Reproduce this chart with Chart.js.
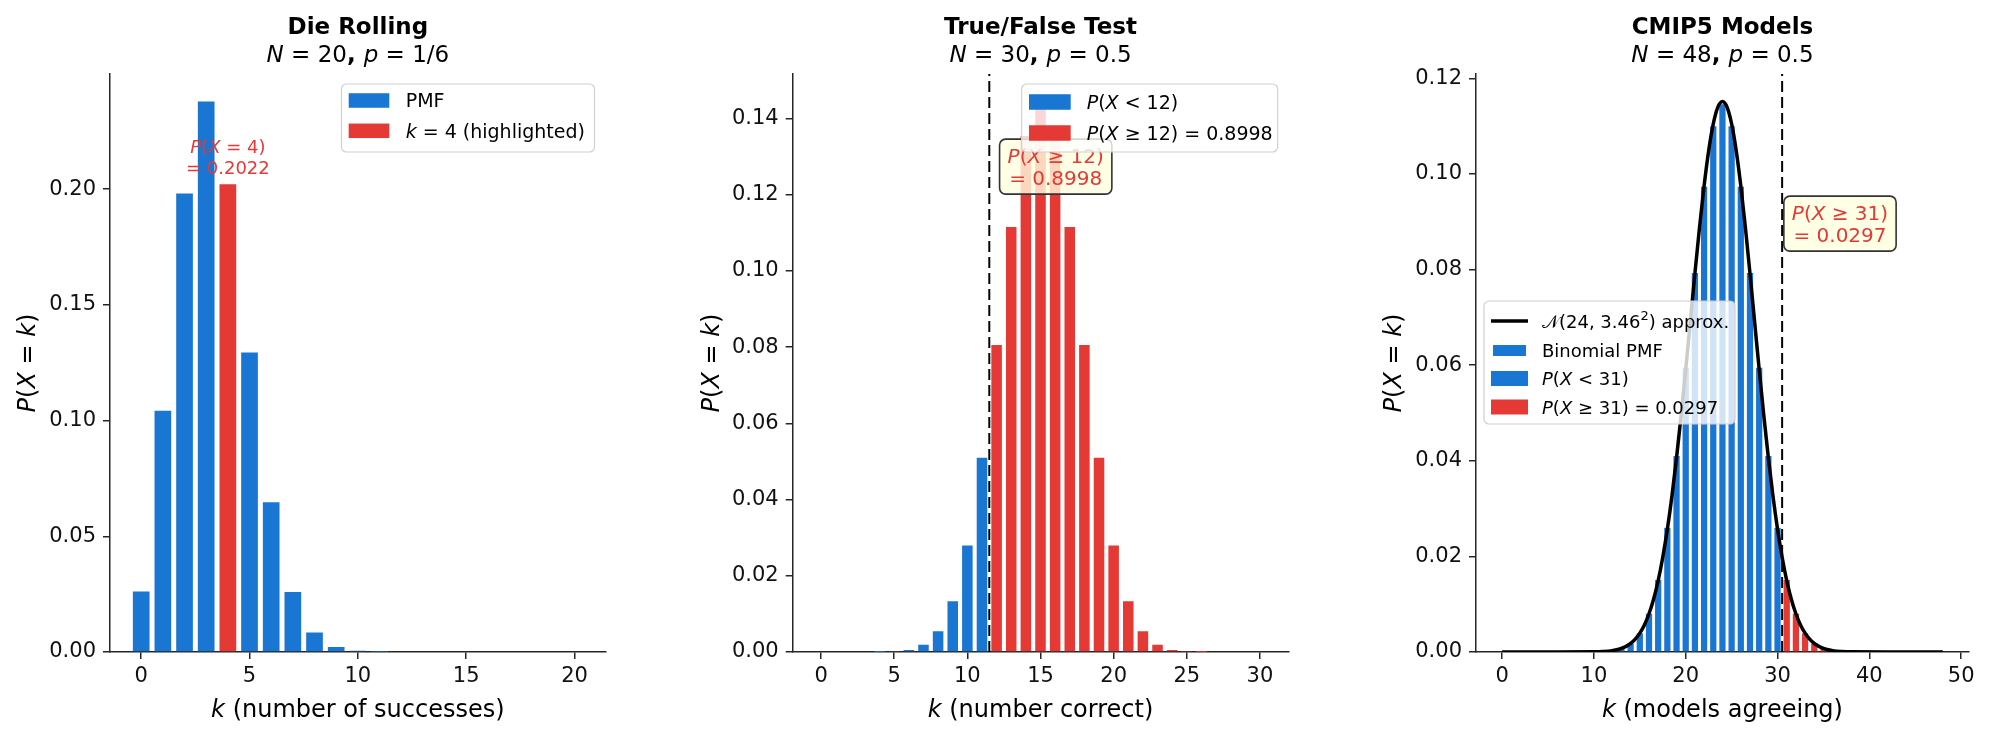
<!DOCTYPE html>
<html>
<head>
<meta charset="utf-8">
<script src="https://cdn.jsdelivr.net/npm/chart.js@4.4.1/dist/chart.umd.min.js"></script>
<style>
  html, body { margin: 0; padding: 0; background: #fff; }
  #wrap { position: relative; width: 1990px; height: 738px; }
  canvas { position: absolute; top: 0; }
</style>
</head>
<body>
<div id="wrap">
  <canvas id="c1" width="663" height="738" style="left:0px"></canvas>
  <canvas id="c2" width="663" height="738" style="left:663px"></canvas>
  <canvas id="c3" width="664" height="738" style="left:1326px"></canvas>
</div>
<script>
// ---- data ----
const dieK = [0, 1, 2, 3, 4, 5, 6, 7, 8, 9, 10, 11, 12, 13, 14, 15, 16, 17, 18, 19, 20];
const dieP = [0.0261, 0.1043, 0.1982, 0.2379, 0.2022, 0.1294, 0.0647, 0.0259, 0.0084, 0.0022,
              0.0005, 0.0001, 0, 0, 0, 0, 0, 0, 0, 0, 0];
const dieHighlight = 4;
const dieXTicks = [0, 5, 10, 15, 20];
const dieYTicks = [0, 0.05, 0.10, 0.15, 0.20];
const dieYLabels = ['0.00', '0.05', '0.10', '0.15', '0.20'];

const tfK = [0, 1, 2, 3, 4, 5, 6, 7, 8, 9, 10, 11, 12, 13, 14, 15, 16, 17, 18, 19, 20,
             21, 22, 23, 24, 25, 26, 27, 28, 29, 30];
const tfP = [0, 0, 0, 0, 0.00003, 0.00013, 0.00055, 0.0019, 0.00545, 0.01332, 0.02798, 0.05095,
             0.08055, 0.11154, 0.13543, 0.14446, 0.13543, 0.11154, 0.08055, 0.05095, 0.02798,
             0.01332, 0.00545, 0.0019, 0.00055, 0.00013, 0.00003, 0, 0, 0, 0];
const tfCut = 12;
const tfLineX = 11.5;
const tfXTicks = [0, 5, 10, 15, 20, 25, 30];
const tfYTicks = [0, 0.02, 0.04, 0.06, 0.08, 0.10, 0.12, 0.14];
const tfYLabels = ['0.00', '0.02', '0.04', '0.06', '0.08', '0.10', '0.12', '0.14'];

const cmK = [0, 1, 2, 3, 4, 5, 6, 7, 8, 9, 10, 11, 12, 13, 14, 15, 16, 17, 18, 19, 20, 21, 22, 23, 24,
             25, 26, 27, 28, 29, 30, 31, 32, 33, 34, 35, 36, 37, 38, 39, 40, 41, 42, 43, 44, 45, 46, 47, 48];
const cmP = [0, 0, 0, 0, 0, 0, 0, 0, 0, 0.000006, 0.000023, 0.00008, 0.00025, 0.00069, 0.00171, 0.00388,
             0.00801, 0.01508, 0.02597, 0.041, 0.05946, 0.07927, 0.09729, 0.10998, 0.11456, 0.10998,
             0.09729, 0.07927, 0.05946, 0.041, 0.02597, 0.01508, 0.00801, 0.00388, 0.00171, 0.00069,
             0.00025, 0.00008, 0.000023, 0.000006, 0, 0, 0, 0, 0, 0, 0, 0, 0];
const cmCut = 31;
const cmLineX = 30.5;
const normX = [0, 6, 10, 11, 12, 13, 14, 14.5, 15, 15.5, 16, 16.5, 17, 17.5, 18, 18.5, 19, 19.5, 20, 20.5,
               21, 21.5, 22, 22.5, 23, 23.5, 24, 24.5, 25, 25.5, 26, 26.5, 27, 27.5, 28, 28.5, 29, 29.5,
               30, 30.5, 31, 31.5, 32, 32.5, 33, 33.5, 34, 35, 36, 37, 38, 42, 48];
const normY = [0, 0, 0.00003, 0.0001, 0.00029, 0.00074, 0.00178, 0.00268, 0.00394, 0.00567, 0.008,
               0.01105, 0.01495, 0.01981, 0.0257, 0.03265, 0.04064, 0.04953, 0.05913, 0.06912, 0.07915,
               0.08876, 0.09748, 0.10486, 0.11046, 0.11397, 0.11516, 0.11397, 0.11046, 0.10486, 0.09748,
               0.08876, 0.07915, 0.06912, 0.05913, 0.04953, 0.04064, 0.03265, 0.0257, 0.01981, 0.01495,
               0.01105, 0.008, 0.00567, 0.00394, 0.00268, 0.00178, 0.00074, 0.00029, 0.0001, 0.00003, 0, 0];
const cmXTicks = [0, 10, 20, 30, 40, 50];
const cmYTicks = [0, 0.02, 0.04, 0.06, 0.08, 0.10, 0.12];
const cmYLabels = ['0.00', '0.02', '0.04', '0.06', '0.08', '0.10', '0.12'];

// ---- styling ----
const BLUE = '#1976D2';
const RED = '#E53935';
const AX = '#262626';
const FF = '"DejaVu Sans", sans-serif';

function fontStr(size, st) {
  return (st.includes('i') ? 'italic ' : '') + (st.includes('b') ? 'bold ' : '') + size + 'px ' + FF;
}

// draw text made of plain / italic / bold / superscript pieces, y = visual centre of caps
function rich(ctx, segs, x, y, size, color, align) {
  let w = 0;
  const parts = segs.map(([t, st0]) => {
    const st = st0 || '';
    const s = st.includes('s') ? Math.round(size * 0.7) : size;
    ctx.font = fontStr(s, st);
    const m = ctx.measureText(t).width;
    w += m;
    return { t, st, s, m };
  });
  let cx = align === 'center' ? x - w / 2 : (align === 'right' ? x - w : x);
  ctx.fillStyle = color;
  ctx.textAlign = 'left';
  ctx.textBaseline = 'alphabetic';
  const base = y + size * 0.364;
  for (const p of parts) {
    ctx.font = fontStr(p.s, p.st);
    ctx.fillText(p.t, cx, p.st.includes('s') ? base - size * 0.42 : base);
    cx += p.m;
  }
  return w;
}

function textWidth(ctx, segs, size) {
  let w = 0;
  for (const [t, st0] of segs) {
    const st = st0 || '';
    ctx.font = fontStr(st.includes('s') ? Math.round(size * 0.7) : size, st);
    w += ctx.measureText(t).width;
  }
  return w;
}

function rrect(ctx, x, y, w, h, r) {
  ctx.beginPath();
  ctx.moveTo(x + r, y);
  ctx.lineTo(x + w - r, y);
  ctx.arcTo(x + w, y, x + w, y + r, r);
  ctx.lineTo(x + w, y + h - r);
  ctx.arcTo(x + w, y + h, x + w - r, y + h, r);
  ctx.lineTo(x + r, y + h);
  ctx.arcTo(x, y + h, x, y + h - r, r);
  ctx.lineTo(x, y + r);
  ctx.arcTo(x, y, x + r, y, r);
  ctx.closePath();
}

// titles, axis labels, annotations and legend drawn on top of the chart
function decor(spec) {
  return {
    id: 'decor',
    afterDraw(chart) {
      const ctx = chart.ctx;
      const a = chart.chartArea;
      const xs = chart.scales.x, ys = chart.scales.y;
      const cx = (a.left + a.right) / 2;
      ctx.save();
      rich(ctx, [[spec.title, 'b']], cx, 25.5, 23, '#000', 'center');
      rich(ctx, spec.sub, cx, 54, 23, '#000', 'center');
      rich(ctx, spec.xLabel, cx, 708, 24, '#000', 'center');
      ctx.save();
      ctx.translate(spec.yLabelX, (a.top + a.bottom) / 2);
      ctx.rotate(-Math.PI / 2);
      rich(ctx, [['P', 'i'], ['(', ''], ['X', 'i'], [' = ', ''], ['k', 'i'], [')', '']], 0, 0, 24, '#000', 'center');
      ctx.restore();

      if (spec.note) {
        const n = spec.note;
        const px = xs.getPixelForValue(n.x), py = ys.getPixelForValue(n.y);
        const fs = n.size;
        if (n.box) {
          const w = Math.max(...n.lines.map(l => textWidth(ctx, l, fs))) + 16;
          const h = 55;
          rrect(ctx, px - w / 2, py - h / 2, w, h, 6);
          ctx.fillStyle = 'rgba(255,255,224,0.8)';
          ctx.fill();
          ctx.lineWidth = 1.6;
          ctx.strokeStyle = '#333';
          ctx.stroke();
        }
        const gap = n.gap;
        n.lines.forEach((l, i) => {
          rich(ctx, l, px, py + (i - (n.lines.length - 1) / 2) * gap, fs, RED, 'center');
        });
      }

      const L = spec.legend;
      rrect(ctx, L.box[0], L.box[1], L.box[2], L.box[3], 5);
      ctx.fillStyle = 'rgba(255,255,255,0.8)';
      ctx.fill();
      ctx.lineWidth = 1.2;
      ctx.strokeStyle = '#d0d0d0';
      ctx.stroke();
      L.rows.forEach(r => {
        if (r.line) {
          ctx.beginPath();
          ctx.moveTo(L.hx, r.y);
          ctx.lineTo(L.hx + L.hw, r.y);
          ctx.lineWidth = 3.5;
          ctx.strokeStyle = r.line;
          ctx.stroke();
        } else {
          const ph = r.ph || L.ph;
          const inset = r.inset || 0;
          ctx.fillStyle = r.patch;
          ctx.fillRect(L.hx + inset, r.y - ph / 2, L.hw - 2 * inset, ph);
        }
        rich(ctx, r.segs, L.tx, r.y, L.fs, '#000', 'left');
      });
      ctx.restore();
    }
  };
}

function pts(ks, ps, keep) {
  const out = [];
  ks.forEach((k, i) => { if (keep(k)) out.push({ x: k, y: ps[i] }); });
  return out;
}

function makeChart(id, o) {
  const tickFont = { family: FF, size: 21 };
  new Chart(document.getElementById(id), {
    type: 'bar',
    data: { datasets: o.datasets },
    options: {
      responsive: false,
      animation: false,
      events: [],
      layout: { padding: { top: 74, left: 0, right: o.padRight, bottom: 0 } },
      plugins: { legend: { display: false }, tooltip: { enabled: false }, title: { display: false } },
      scales: {
        x: {
          type: 'linear', min: o.xMin, max: o.xMax, offset: false, z: 1,
          grid: { display: true, drawOnChartArea: false, drawTicks: true, tickLength: 7, color: AX, lineWidth: 1.5, offset: false },
          border: { display: true, color: AX, width: 1.5 },
          ticks: { font: tickFont, color: '#111', padding: 5, maxRotation: 0, autoSkip: false,
                   callback: v => String(v) },
          afterBuildTicks: s => { s.ticks = o.xTicks.map(v => ({ value: v })); },
          afterFit: s => { s.height = 86; }
        },
        y: {
          type: 'linear', min: 0, max: o.yMax, z: 1,
          grid: { display: true, drawOnChartArea: false, drawTicks: true, tickLength: 7, color: AX, lineWidth: 1.5 },
          border: { display: true, color: AX, width: 1.5 },
          ticks: { font: tickFont, color: '#111', padding: 7,
                   callback: v => o.yLabels[o.yTicks.indexOf(v)] },
          afterBuildTicks: s => { s.ticks = o.yTicks.map(v => ({ value: v })); },
          afterFit: s => { s.width = o.spine; }
        }
      }
    },
    plugins: [decor(o.spec)]
  });
}

const barBase = { type: 'bar', grouped: false, categoryPercentage: 1, borderWidth: 0, order: 2 };
const dash = { type: 'line', borderColor: '#000', borderWidth: 2, borderDash: [11, 5], pointRadius: 0, fill: false };

// ---- panel 1: die rolling ----
makeChart('c1', {
  xMin: -1.44, xMax: 21.44, yMax: 0.2498, spine: 110, padRight: 663 - 605.7,
  xTicks: dieXTicks, yTicks: dieYTicks, yLabels: dieYLabels,
  datasets: [
    { ...barBase, barPercentage: 0.77, backgroundColor: BLUE, data: pts(dieK, dieP, k => k !== dieHighlight) },
    { ...barBase, barPercentage: 0.77, backgroundColor: RED, data: pts(dieK, dieP, k => k === dieHighlight) }
  ],
  spec: {
    title: 'Die Rolling',
    sub: [['N', 'i'], [' = 20', ''], [', ', 'b'], ['p', 'i'], [' = 1/6', '']],
    xLabel: [['k', 'i'], [' (number of successes)', '']],
    yLabelX: 26.5,
    note: { x: 4, y: 0.214, size: 18, gap: 21.5, box: false,
            lines: [[['P', 'i'], ['(', ''], ['X', 'i'], [' = 4)', '']], [['= 0.2022', '']]] },
    legend: { box: [341.5, 84, 253, 68], hx: 348.7, hw: 40.6, ph: 14.5, tx: 405.7, fs: 19,
              rows: [ { y: 100.5, patch: BLUE, segs: [['PMF', '']] },
                      { y: 130.8, patch: RED, segs: [['k', 'i'], [' = 4 (highlighted)', '']] } ] }
  }
});

// ---- panel 2: true/false test ----
makeChart('c2', {
  xMin: -1.94, xMax: 31.94, yMax: 0.1517, spine: 129.7, padRight: 663 - 625.3,
  xTicks: tfXTicks, yTicks: tfYTicks, yLabels: tfYLabels,
  datasets: [
    { ...dash, order: 1, data: [{ x: tfLineX, y: 0 }, { x: tfLineX, y: 0.1517 }] },
    { ...barBase, barPercentage: 0.72, backgroundColor: BLUE, data: pts(tfK, tfP, k => k < tfCut) },
    { ...barBase, barPercentage: 0.72, backgroundColor: RED, data: pts(tfK, tfP, k => k >= tfCut) }
  ],
  spec: {
    title: 'True/False Test',
    sub: [['N', 'i'], [' = 30', ''], [', ', 'b'], ['p', 'i'], [' = 0.5', '']],
    xLabel: [['k', 'i'], [' (number correct)', '']],
    yLabelX: 47,
    note: { x: 16.04, y: 0.1274, size: 20, gap: 22, box: true,
            lines: [[['P', 'i'], ['(', ''], ['X', 'i'], [' ≥ 12)', '']], [['= 0.8998', '']]] },
    legend: { box: [358.7, 84, 256, 68], hx: 366, hw: 41.7, ph: 15.5, tx: 423.7, fs: 19,
              rows: [ { y: 102, patch: BLUE, segs: [['P', 'i'], ['(', ''], ['X', 'i'], [' < 12)', '']] },
                      { y: 133, patch: RED, segs: [['P', 'i'], ['(', ''], ['X', 'i'], [' ≥ 12) = 0.8998', '']] } ] }
  }
});

// ---- panel 3: CMIP5 models ----
makeChart('c3', {
  xMin: -2.84, xMax: 50.84, yMax: 0.1209, spine: 150, padRight: 664 - 642.9,
  xTicks: cmXTicks, yTicks: cmYTicks, yLabels: cmYLabels,
  datasets: [
    { ...dash, order: 0, data: [{ x: cmLineX, y: 0 }, { x: cmLineX, y: 0.1209 }] },
    { type: 'line', order: 1, data: normX.map((x, i) => ({ x, y: normY[i] })),
      borderColor: '#000', borderWidth: 3.5, pointRadius: 0, fill: false, cubicInterpolationMode: 'monotone' },
    { ...barBase, barPercentage: 0.68, backgroundColor: BLUE, data: pts(cmK, cmP, k => k < cmCut) },
    { ...barBase, barPercentage: 0.68, backgroundColor: RED, data: pts(cmK, cmP, k => k >= cmCut) }
  ],
  spec: {
    title: 'CMIP5 Models',
    sub: [['N', 'i'], [' = 48', ''], [', ', 'b'], ['p', 'i'], [' = 0.5', '']],
    xLabel: [['k', 'i'], [' (models agreeing)', '']],
    yLabelX: 66,
    note: { x: 36.8, y: 0.0896, size: 20, gap: 22, box: true,
            lines: [[['P', 'i'], ['(', ''], ['X', 'i'], [' ≥ 31)', '']], [['= 0.0297', '']]] },
    legend: { box: [158, 301, 251, 123], hx: 165, hw: 37, ph: 15, tx: 216, fs: 18,
              rows: [ { y: 321, line: '#000', segs: [['𝒩', ''], ['(24, 3.46', ''], ['2', 's'], [') approx.', '']] },
                      { y: 350.5, patch: BLUE, ph: 11, inset: 2, segs: [['Binomial PMF', '']] },
                      { y: 378.5, patch: BLUE, segs: [['P', 'i'], ['(', ''], ['X', 'i'], [' < 31)', '']] },
                      { y: 407, patch: RED, segs: [['P', 'i'], ['(', ''], ['X', 'i'], [' ≥ 31) = 0.0297', '']] } ] }
  }
});
</script>
</body>
</html>
